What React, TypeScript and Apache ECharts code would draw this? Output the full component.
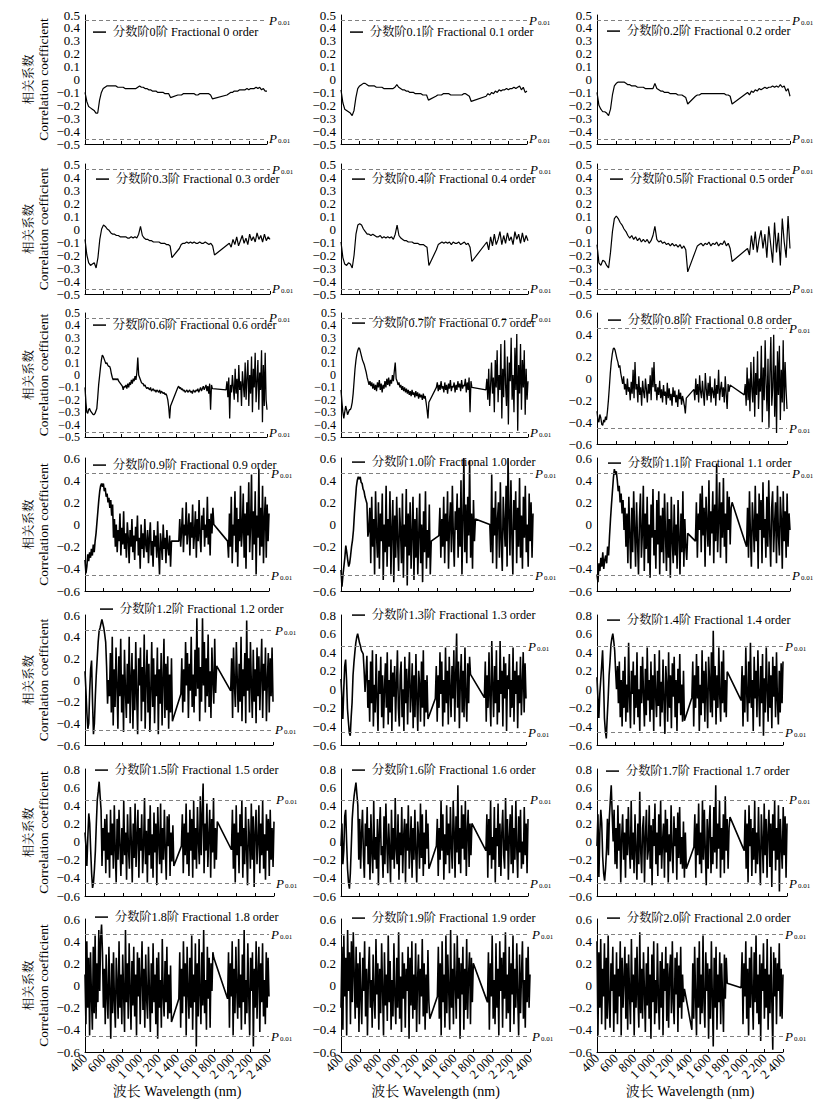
import React, { useEffect, useRef } from 'react';
import * as echarts from 'echarts';

// ---------- DATA (correlation coefficient values in hundredths) ----------
const ORDERS = ['0', '0.1', '0.2', '0.3', '0.4', '0.5', '0.6', '0.7', '0.8', '0.9', '1.0', '1.1', '1.2', '1.3', '1.4', '1.5', '1.6', '1.7', '1.8', '1.9', '2.0'];
// wavelength segments (nm); water-absorption bands removed between them
const COARSE_SEGMENTS = [[400, 1340], [1420, 1800], [1960, 2400]];
const COARSE_STEP = 20;
const FINE_SEGMENTS = [[400, 1340], [1420, 1800], [1950, 2400]];
const FINE_STEP = 10;
const P001 = 0.46;

const P00_A = [-10,-17,-21,-22,-23,-24,-26,-26,-16,-10,
-7,-6,-5,-5,-5,-5,-5,-5,-6,-6,
-6,-6,-7,-7,-7,-7,-7,-7,-7,-6,
-5,-6,-6,-7,-7,-8,-8,-9,-9,-9,
-10,-10,-10,-10,-11,-11,-11,-14];
const P00_B = [-12,-12,-12,-11,-11,-11,-11,-11,-11,-11,-12,-12,-11,-11,-11,-11,-11,-11,-12,-15];
const P00_C = [-12,-11,-10,-10,-9,-9,-9,-8,-8,-8,-8,-7,-8,-7,-7,-7,-6,-7,-6,-8,-7,-9,-9];

const P01_A = [-8,-18,-23,-24,-25,-26,-28,-24,-14,-7,
-5,-4,-3,-3,-4,-5,-5,-5,-5,-6,
-6,-6,-6,-7,-7,-7,-7,-7,-7,-6,
-4,-6,-7,-8,-8,-9,-9,-10,-10,-10,
-11,-11,-11,-11,-12,-12,-12,-16];
const P01_B = [-13,-12,-12,-12,-11,-11,-11,-11,-12,-12,-12,-12,-12,-12,-12,-11,-11,-12,-13,-17];
const P01_C = [-13,-11,-12,-10,-11,-9,-10,-8,-9,-8,-8,-7,-8,-7,-7,-6,-7,-6,-5,-8,-6,-10,-9];

const P02_A = [-10,-20,-23,-25,-25,-26,-28,-23,-12,-5,
-3,-2,-2,-2,-2,-3,-4,-4,-5,-5,
-5,-6,-6,-6,-6,-7,-7,-7,-7,-7,
-3,-7,-8,-9,-9,-10,-10,-10,-11,-11,
-11,-11,-12,-12,-12,-13,-14,-19];
const P02_B = [-13,-12,-12,-11,-11,-11,-11,-11,-11,-11,-11,-11,-11,-11,-11,-11,-12,-12,-13,-19];
const P02_C = [-10,-12,-9,-10,-8,-9,-7,-8,-7,-6,-7,-6,-6,-5,-6,-5,-6,-4,-6,-5,-9,-7,-13];

const P03_A = [-8,-20,-26,-28,-27,-26,-30,-22,-8,0,
3,2,0,-1,-3,-4,-4,-5,-5,-6,
-6,-6,-6,-7,-7,-6,-7,-6,-7,-4,
2,-5,-7,-8,-8,-9,-9,-10,-10,-10,
-10,-11,-11,-11,-12,-12,-13,-22];
const P03_B = [-15,-12,-11,-11,-10,-11,-10,-11,-10,-11,-11,-10,-11,-11,-10,-11,-12,-11,-13,-20];
const P03_C = [-11,-14,-8,-12,-6,-13,-9,-5,-11,-7,-12,-4,-9,-6,-10,-3,-8,-5,-10,-4,-9,-6,-8];

const P04_A = [-10,-22,-27,-28,-26,-27,-30,-20,-4,3,
4,3,0,-2,-4,-4,-5,-4,-5,-6,
-6,-5,-7,-6,-7,-6,-7,-6,-8,-4,
3,-5,-7,-8,-9,-9,-10,-10,-10,-11,
-11,-11,-12,-12,-12,-13,-14,-28];
const P04_B = [-16,-12,-11,-10,-11,-10,-11,-10,-12,-10,-11,-11,-10,-12,-11,-10,-12,-11,-14,-25];
const P04_C = [-10,-16,-6,-13,-4,-12,-8,-2,-12,-5,-11,-3,-9,-6,-12,-2,-8,-4,-11,-3,-10,-5,-9];

const P05_A = [-12,-26,-28,-24,-25,-28,-30,-18,-2,8,
10,8,5,3,0,-2,-5,-7,-5,-8,
-6,-9,-7,-10,-8,-10,-8,-11,-9,-5,
2,-8,-10,-9,-11,-10,-12,-11,-13,-11,
-13,-12,-14,-12,-15,-13,-16,-33];
const P05_B = [-17,-13,-12,-11,-13,-11,-12,-10,-13,-11,-12,-10,-13,-11,-12,-9,-13,-11,-15,-25];
const P05_C = [-15,-20,-5,-16,-2,-18,-8,-1,-15,-4,-22,2,-12,-26,5,-18,-3,-28,8,-10,-22,10,-15];

const P06_A = [-10,-22,-30,-31,-28,-27,-29,-30,-31,-32,
-32,-31,-29,-27,-18,-8,-1,6,12,16,
15,13,11,9,10,8,7,7,5,1,
-2,-4,-3,-4,-3,-4,-3,-5,-6,-7,
-8,-9,-12,-9,-10,-8,-11,-7,-10,-6,
-8,-4,-7,-3,-5,-1,-4,2,14,0,
-2,-4,-6,-7,-7,-9,-8,-10,-11,-10,
-11,-12,-10,-13,-12,-11,-13,-12,-14,-12,
-13,-14,-12,-15,-13,-14,-15,-14,-16,-15,
-17,-20,-26,-35,-25];
const P06_B = [-10,-9,-11,-10,-12,-11,-13,-12,-14,-13,
-12,-14,-13,-12,-14,-13,-15,-12,-13,-14,
-12,-13,-11,-14,-12,-10,-13,-11,-9,-12,
-10,-8,-13,-9,-15,-7,-28,-8,-11];
const P06_C = [-12,-5,-18,-2,-35,-8,-14,0,-10,-20,
5,-15,-3,-22,8,-12,-5,-25,3,-8,
-18,10,-20,-2,12,-25,0,-15,15,-30,
5,-10,18,-22,-5,12,-28,2,-12,20,
-38,8,-25,18,-20,-28];

const P07_A = [-12,-22,-30,-35,-30,-25,-28,-32,-30,-28,
-28,-26,-22,-15,-5,5,12,17,20,22,
21,18,15,12,10,8,5,2,-2,-5,
-8,-5,-9,-6,-11,-7,-12,-8,-13,-6,
-10,-4,-12,-7,-14,-8,-11,-5,-10,-3,
-8,-2,-9,-4,-7,0,-5,3,10,-3,
-5,-8,-6,-10,-8,-12,-9,-13,-10,-14,
-11,-15,-12,-16,-13,-17,-12,-16,-14,-18,
-13,-17,-14,-19,-15,-18,-16,-20,-15,-19,
-17,-22,-28,-35,-22];
const P07_B = [-10,-6,-13,-8,-12,-5,-11,-9,-14,-6,
-12,-8,-15,-7,-11,-4,-13,-9,-10,-6,
-14,-8,-12,-5,-10,-7,-13,-4,-11,-8,
-9,-3,-14,-6,-12,-2,-30,-5,-10];
const P07_C = [-12,-3,-20,5,-25,-8,10,-15,-2,-30,
12,-10,20,-22,0,-12,25,-35,5,-18,
28,-8,-25,15,-40,10,-5,30,-20,0,
-30,22,-12,33,-45,8,-15,25,-28,12,
-10,20,-32,5,-20,-5];

const P08_A = [-30,-38,-40,-33,-36,-42,-43,-38,-40,-35,
-38,-30,-20,-8,5,15,22,27,28,26,
22,18,15,10,12,5,0,-5,2,-10,
-5,-15,0,-12,-8,-20,-3,-14,8,-18,
15,-10,-5,-22,2,-15,-8,-25,-2,-12,
-18,0,-10,-22,-5,-14,3,-20,10,-8,
15,-12,-5,-20,-8,-15,-2,-18,-10,-22,
-6,-16,-12,-24,-4,-18,-9,-20,-14,-25,
-8,-17,-11,-22,-15,-26,-10,-19,-13,-24,
-16,-20,-25,-32,-18];
const P08_B = [-10,-20,0,-15,-5,-22,3,-12,-18,-2,
-14,-25,5,-10,-20,-4,-16,2,-22,-8,
-12,-18,0,-25,-6,-14,8,-20,-10,-3,
-17,-8,-22,2,-14,-28,-5,-12,-6];
const P08_C = [-15,-5,-25,10,-20,0,-30,15,-10,-22,
20,-35,5,-15,25,-28,0,-12,30,-40,
10,-20,35,-5,-30,18,-45,5,38,-25,
-8,40,-35,12,-50,25,-15,30,-38,8,
-22,35,-30,15,-10,-28];

const P09_A = [-32,-44,-38,-27,-33,-25,-30,-22,-28,-18,
-25,-15,-8,2,12,22,30,35,37,34,
37,30,33,25,28,20,24,15,22,8,
18,-12,5,-20,0,-25,-5,-15,10,-28,
-3,-18,12,-22,-8,-30,2,-12,-35,-5,
-20,5,-25,-10,-32,-2,-15,8,-28,-12,
-40,0,-22,-8,-30,5,-18,-25,-5,-35,
-12,2,-28,-15,-38,-5,-20,-10,-30,3,
-25,-45,-8,-18,-32,0,-22,-12,-35,-5,
-20,-28,-10,-38,-15];
const P09_B = [-15,5,-20,-5,15,-25,0,-10,20,-18,
-5,10,-28,2,-12,18,-22,-8,12,-30,
5,-15,22,-10,-25,8,-5,15,-20,0,
-12,25,-18,5,-28,10,-8,15,0];
const P09_C = [-15,-30,10,-20,25,-35,0,-10,30,-25,
15,-38,5,-15,35,-20,-5,28,-30,10,
-40,20,-10,38,-25,0,45,-32,12,-18,
30,-45,8,-12,50,-28,15,-20,35,-35,
5,25,-30,18,-15,10];

const P10_A = [-41,-56,-46,-38,-30,-19,-25,-32,-38,-35,
-28,-20,-14,-5,10,22,34,40,43,41,
43,38,37,32,30,25,22,19,-11,-5,
15,-35,25,-20,5,-45,30,-10,-30,20,
-40,10,-15,28,-50,0,-25,35,-38,5,
-20,30,-45,-5,22,-52,8,-30,25,-15,
-42,15,-5,-35,28,-48,0,-20,32,-55,
10,-28,20,-40,-8,25,-50,5,-30,15,
-45,-10,28,-35,0,-52,12,-25,30,-40,
-5,-30,18,-45,-15];
const P10_B = [-10,15,-30,5,-20,25,-35,10,-15,30,
-40,0,20,-25,35,-10,-38,12,-5,28,
-30,15,-20,40,-45,5,60,-25,18,-35,
25,-10,58,-30,10,-40,22,-15,5];
const P10_C = [0,-25,45,-35,15,-10,30,-40,5,20,
-30,38,-15,-42,25,0,-20,35,-38,60,
10,-28,40,-10,-45,22,-5,30,-35,15,
-20,42,-30,8,-40,25,-12,35,-25,0,
-38,28,-15,20,-30,10];

const P11_A = [-45,-52,-35,-42,-30,-38,-25,-40,-32,-28,
-35,-20,-28,-10,5,18,30,42,50,45,
48,40,30,35,20,28,10,22,-5,15,
-20,10,-35,25,-10,-40,15,-25,30,-5,
-38,20,-15,-45,5,28,-30,-8,35,-42,
10,-22,25,-35,0,-48,18,-12,32,-28,
-5,-40,22,-18,30,-45,8,-25,15,-35,
28,-10,-42,20,-30,5,-48,25,-15,-35,
18,-28,0,-40,22,-12,-45,10,-25,30,
-38,5,-20,-32,-8];
const P11_B = [-15,20,-30,10,-5,28,-25,35,-10,15,
-38,25,0,-20,40,-28,12,-8,30,-35,
18,-15,55,-25,5,38,-30,20,-12,42,
-20,10,-35,30,-5,25,-18,15,20];
const P11_C = [-20,15,-30,30,-10,-38,20,0,-25,35,
-15,10,-40,28,-5,22,-35,38,-12,5,
-30,25,-20,40,-8,-38,15,30,-25,0,
20,-35,35,-10,-28,25,5,-40,30,-15,
12,-30,28,-20,10,-5];

const P12_A = [8,-10,-30,-45,-40,-10,10,18,-20,-50,
-40,-15,5,20,35,45,48,52,56,52,
48,42,35,12,-22,0,-15,25,-30,40,
-42,10,-25,30,-5,-45,22,-15,38,-30,
5,-48,28,-10,-35,15,-22,40,-40,0,
25,-45,10,-28,35,-15,-50,20,-5,30,
-38,12,-20,42,-45,0,28,-30,15,-48,
-10,35,-25,20,-40,5,-15,30,-50,10,
-22,25,-42,0,38,-35,15,-28,22,-45,
5,-30,20,-38,-35];
const P12_B = [-13,20,-30,10,-20,35,-5,25,-35,15,
-10,40,-25,5,-30,28,-15,57,-8,30,
-38,12,-20,57,-5,35,-30,20,-15,42,
-25,8,-35,30,0,-22,38,-12,13];
const P12_C = [-10,20,-35,30,-5,-25,35,0,-30,15,
-20,40,-38,10,-15,25,-40,55,-10,20,
-30,35,-5,-35,28,-20,10,-40,30,-15,
22,-28,5,38,-35,15,-10,30,-38,0,
25,-30,20,-15,30,-20];

const P13_A = [11,-10,-32,0,25,32,10,-21,-35,-47,
-50,-30,-14,15,29,40,50,56,60,55,
50,47,42,40,38,20,-3,15,36,-20,
10,-35,30,-15,42,-40,5,-25,38,-10,
-45,20,-5,35,-30,15,-42,0,28,-20,
40,-38,10,-25,32,-45,18,-8,25,-35,
5,42,-20,-40,15,30,-30,0,-45,35,
-15,22,-38,10,40,-25,-5,28,-42,15,
-30,38,-10,-45,20,5,-35,30,-20,42,
-40,10,-25,15,-32];
const P13_B = [-10,25,-35,15,-20,40,-5,30,-40,10,
-25,45,-15,20,-38,35,0,-30,25,-10,
42,-35,15,60,-20,30,-42,8,38,-25,
20,-30,45,-8,-35,28,-15,35,16];
const P13_C = [-9,30,-35,15,-20,40,-10,-40,52,5,
-30,25,-15,42,-38,10,-25,52,-5,20,
-40,35,-10,28,-45,15,0,38,-30,10,
-20,45,-35,20,-5,30,-42,15,-15,35,
-28,5,40,-25,28,-10];

const P14_A = [13,-10,-31,-5,10,25,42,10,-31,-45,
-53,-30,-10,15,30,48,55,60,52,42,
20,0,25,-15,30,-30,10,-40,20,-20,
35,-35,5,-25,50,-10,-42,20,-5,30,
-38,15,-20,40,-30,0,-45,25,-15,35,
-5,-40,22,-28,45,-12,10,-35,30,-22,
15,-45,38,-5,-30,20,-18,42,-40,8,
-25,32,-12,-48,25,5,-35,40,-20,15,
-42,28,-8,35,-30,10,-45,22,-15,38,
-28,5,-35,20,-34];
const P14_B = [-9,30,-40,15,-20,38,-10,25,-45,5,
-28,42,-15,20,-35,30,-5,-42,35,10,
-25,40,-30,63,-12,25,-38,15,-20,45,
-8,-35,30,-15,42,-25,10,-30,19];
const P14_C = [-12,25,-40,15,-25,45,-5,-35,30,-15,
50,-20,10,-45,35,-10,20,-30,42,-5,
-40,25,-15,38,-50,12,-25,45,0,-35,
30,-20,15,-42,35,-8,25,-30,40,-12,
-38,20,-25,28,-15,30];

const P15_A = [10,-5,-27,5,31,20,-9,-35,-51,-45,
-30,-10,20,46,55,66,50,35,-27,15,
-10,25,-35,30,-20,10,-40,35,-15,20,
-30,40,-10,-45,25,-20,35,-5,-38,15,
-25,45,-15,10,-42,30,-8,-30,38,0,
-45,20,-18,42,-28,5,35,-40,15,-10,
30,-35,-5,48,-25,12,-45,25,-15,40,
-30,8,-40,32,-12,20,-48,38,0,-25,
42,-35,15,-20,35,-10,-42,28,-5,30,
-38,10,-22,18,-27];
const P15_B = [-5,30,-35,20,-15,42,-25,10,-38,35,
-10,25,-40,45,-20,15,-30,38,0,-25,
50,-15,30,64,-35,20,-10,42,-28,5,
35,-40,25,-12,48,-30,15,-20,22];
const P15_C = [-9,35,-30,20,-45,40,-15,10,-35,30,
-5,45,-40,15,-25,38,-10,-48,25,5,
-30,42,-20,28,-50,10,35,-25,0,40,
-35,20,-15,45,-30,8,-42,30,-10,25,
-38,35,-20,15,-28,22];

const P16_A = [-5,20,-25,-10,28,35,0,-30,-45,-52,
-35,-5,25,40,50,58,65,52,40,-20,
25,-30,10,35,-15,-40,20,-5,38,-25,
15,-42,30,-10,-35,45,-20,5,-30,25,
-48,10,38,-15,-5,-40,28,-25,42,0,
-35,20,-10,-45,35,-20,15,-30,48,-8,
-25,30,-42,10,-15,38,-35,5,25,-45,
20,-10,40,-30,-5,28,-40,15,-20,35,
-12,-45,22,5,-30,42,-18,30,-38,10,
-25,35,-8,20,-30];
const P16_B = [-5,25,-38,15,-20,45,-10,30,-42,8,
-25,40,-15,20,-35,38,-5,-30,45,12,
-40,28,-12,62,-25,15,-35,40,-8,30,
-20,45,-38,10,35,-28,20,-15,20];
const P16_C = [-10,30,-40,25,-15,45,-30,5,-20,38,
-45,15,-5,42,-28,20,-38,10,35,-15,
-30,48,-10,25,-42,5,30,-25,40,-35,
15,-20,45,-8,-40,28,-12,35,-30,0,
-25,38,-15,20,-35,25];

const P17_A = [-5,30,-39,10,35,20,-17,-35,-43,-30,
-10,25,-15,27,45,62,30,0,35,-25,
15,-30,40,-10,20,-45,5,30,-20,10,
-40,25,-15,38,-5,-30,45,-20,10,-35,
30,-8,-42,20,-25,55,-10,-35,15,28,
-45,5,35,-20,-10,40,-30,18,-48,25,
-5,42,-25,10,-38,30,-15,45,-30,0,
20,-40,35,-12,25,-45,8,-22,40,-10,
-35,28,-5,15,-42,32,-18,38,-25,5,
-30,22,-40,10,-30];
const P17_B = [-6,30,-40,20,-15,42,-25,10,-35,45,
-20,35,-10,-48,25,-30,15,40,-35,5,
-25,38,-12,62,-30,20,-8,45,-40,15,
-20,30,-35,50,-10,25,-30,15,27];
const P17_C = [-10,35,-30,20,-45,40,-5,25,-38,15,
-20,45,-35,10,-25,38,-12,-48,30,0,
-35,42,-15,25,-40,10,35,-28,20,-50,
30,-10,45,-32,15,-20,40,-55,25,-5,
-30,38,-15,28,-40,20];

const P18_A = [10,-35,40,-20,25,-45,30,-10,-40,35,
-25,45,-30,20,-15,50,-5,42,55,30,
-20,15,-35,28,-10,-30,35,-5,-48,20,
-25,30,-15,-38,25,0,-30,40,-20,10,
-35,28,-8,-42,50,-15,20,-30,38,-5,
-40,22,-18,35,-28,10,-45,30,-10,25,
-35,5,40,-22,15,-38,28,-12,-30,35,
-5,-42,20,-25,38,-15,10,-35,25,-48,
30,-20,5,-38,42,-10,-28,22,-15,35,
-30,10,-25,18,-33];
const P18_B = [-12,30,-38,15,-25,40,-10,20,-45,35,
-5,-30,25,-20,45,-40,10,-15,38,-55,
20,-28,42,-8,-35,30,-18,50,-25,5,
-40,35,-12,25,-38,20,-5,30,25];
const P18_C = [-12,30,-38,20,-10,40,-45,15,-25,35,
-5,-30,42,-20,10,-40,28,-15,50,-35,
5,-25,38,-10,-45,25,-5,30,-55,15,
-20,40,-30,10,35,-42,20,-15,38,-28,
5,-35,30,-20,25,-10];

const P19_A = [-20,35,-40,45,-10,25,-45,50,-5,30,
-35,40,-15,48,10,-30,35,-20,20,-42,
30,-10,-35,25,-5,40,-28,15,-45,10,
35,-20,5,-38,28,-12,-30,42,-8,20,
-40,15,-25,38,-5,-45,30,-18,10,-32,
45,-15,22,-40,5,-28,38,-10,-35,25,
-20,48,-30,8,-42,30,-12,20,-38,15,
-5,35,-48,25,-18,40,-30,10,-22,38,
-42,5,28,-35,15,-10,42,-28,20,-40,
10,-25,32,-15,-30];
const P19_B = [-10,35,-30,20,-45,40,-15,10,-38,45,
-25,28,-5,-40,50,-20,15,-35,38,0,
-30,45,-12,25,-48,20,-8,35,-40,15,
-22,42,-30,10,30,-35,25,-15,20];
const P19_C = [-15,30,-40,20,-10,45,-30,5,-35,38,
-20,15,-45,40,-5,25,-38,30,-12,48,
-30,10,-25,35,-42,20,-8,45,-35,15,
-20,38,-10,-45,28,-25,10,40,-30,5,
-38,25,-15,35,-20,10];

const P20_A = [40,-45,30,-20,42,-35,15,-10,38,-40,
25,-30,45,-15,-38,20,-5,35,-42,10,
-25,30,-35,15,-10,40,-45,25,-20,5,
35,-30,20,-40,28,-8,-35,42,-15,10,
-45,25,-20,35,-10,-38,48,-25,15,-30,
30,-5,-42,20,-18,35,-30,10,-48,28,
-15,40,-35,5,-25,38,-10,-40,22,-20,
30,-45,15,-5,35,-32,20,-38,10,28,
-25,40,-15,-35,25,-8,30,-42,18,-20,
35,-30,10,-15,-3];
const P20_B = [-40,20,-30,35,-10,-45,25,-20,40,-35,
10,-25,45,-15,-38,30,-5,20,-48,15,
-30,40,-10,-55,25,-20,35,-40,10,-15,
30,-35,20,-8,-42,28,-12,25,2];
const P20_C = [-2,30,-35,20,-10,40,-30,15,-45,25,
-20,35,-8,-40,30,-15,45,-25,10,-35,
28,-50,20,-5,38,-30,15,-20,42,-40,
10,-25,35,-15,-58,30,-10,25,-35,20,
-5,38,-28,15,-30,10];

const PANEL_VALUES = [
  [P00_A, P00_B, P00_C], [P01_A, P01_B, P01_C], [P02_A, P02_B, P02_C],
  [P03_A, P03_B, P03_C], [P04_A, P04_B, P04_C], [P05_A, P05_B, P05_C],
  [P06_A, P06_B, P06_C], [P07_A, P07_B, P07_C], [P08_A, P08_B, P08_C],
  [P09_A, P09_B, P09_C], [P10_A, P10_B, P10_C], [P11_A, P11_B, P11_C],
  [P12_A, P12_B, P12_C], [P13_A, P13_B, P13_C], [P14_A, P14_B, P14_C],
  [P15_A, P15_B, P15_C], [P16_A, P16_B, P16_C], [P17_A, P17_B, P17_C],
  [P18_A, P18_B, P18_C], [P19_A, P19_B, P19_C], [P20_A, P20_B, P20_C],
];
const COARSE_PANELS = 6; // first six panels sampled on the coarse grid

const Y_MAX = [0.5, 0.5, 0.5, 0.5, 0.5, 0.5, 0.5, 0.5, 0.6, 0.6, 0.6, 0.6, 0.6, 0.8, 0.8, 0.8, 0.8, 0.8, 0.6, 0.6, 0.6];

// ---------- LAYOUT ----------
const COL_LEFT = [85, 341, 597];
const PANEL_RIGHT = [267, 527, 790, 270, 528, 790, 267, 528, 787, 269, 533, 790, 273, 526, 783, 274, 528, 787, 269, 530, 783];
const ROW_TOP = [15, 164, 313, 458, 615, 769, 919];
const PANEL_BOTTOM = [144, 144, 144, 294, 294, 294, 437, 437, 444, 591, 591, 591, 745, 745, 745, 896, 896, 896, 1052, 1052, 1052];
const LEGEND_XY = [[93, 34], [350, 34], [607, 33], [96, 181], [352, 181], [610, 181], [93, 327], [352, 325], [608, 322], [93, 467], [352, 464], [608, 465], [100, 611], [352, 617], [607, 622], [95, 772], [352, 772], [606, 773], [95, 919], [352, 920], [607, 920]];

const SERIF = '"Liberation Serif", "Times New Roman", "Noto Serif CJK SC", "Noto Sans CJK SC", serif';

function buildData(segs: number[][], step: number, vals: number[][]) {
  const out: number[][] = [];
  segs.forEach((s, k) => {
    const arr = vals[k];
    for (let i = 0; i < arr.length; i++) {
      const x = s[0] + i * step;
      if (x > s[1]) break;
      out.push([x, arr[i] / 100]);
    }
  });
  return out;
}

function fmtY(v: number) {
  if (Math.abs(v) < 1e-9) return '0';
  return (v < 0 ? '\u2212' : '') + Math.abs(v).toFixed(1);
}
function fmtX(v: number) {
  if (v >= 1000) {
    const th = Math.floor(v / 1000);
    const rest = String(Math.round(v - th * 1000)).padStart(3, '0');
    return th + ' ' + rest;
  }
  return String(v);
}

function buildOption() {
  const grid: any[] = [];
  const xAxis: any[] = [];
  const yAxis: any[] = [];
  const series: any[] = [];
  const legend: any[] = [];
  ORDERS.forEach((ord, i) => {
    const row = Math.floor(i / 3);
    const col = i % 3;
    const left = COL_LEFT[col];
    const top = ROW_TOP[row];
    const bottomRow = row === 6;
    const ymax = Y_MAX[i];
    const ymin = ymax === 0.5 ? -0.5 : -0.6;
    const interval = ymax === 0.5 ? 0.1 : 0.2;
    const name = '分数阶' + ord + '阶 Fractional ' + ord + ' order';
    const coarse = i < COARSE_PANELS;
    const height = PANEL_BOTTOM[i] - top;
    const labelSpacing = height / Math.round((ymax - ymin) / interval);
    grid.push({ left, top, width: PANEL_RIGHT[i] - left, height, containLabel: false });
    xAxis.push({
      gridIndex: i, type: 'value', min: 400, max: 2400, interval: 200,
      axisLine: { show: true, onZero: false, lineStyle: { color: '#000', width: 1 } },
      axisTick: { show: true, inside: true, length: 3, lineStyle: { color: '#000' } },
      splitLine: { show: false },
      axisLabel: bottomRow
        ? { show: true, rotate: 45, margin: 4, fontSize: 13, color: '#000', fontFamily: SERIF, formatter: fmtX, showMinLabel: true, showMaxLabel: true }
        : { show: false },
      name: bottomRow ? '波长 Wavelength (nm)' : '',
      nameLocation: 'middle', nameGap: 26,
      nameTextStyle: { fontSize: 14, color: '#000', fontFamily: SERIF },
    });
    yAxis.push({
      gridIndex: i, type: 'value', min: ymin, max: ymax, interval,
      axisLine: { show: true, onZero: false, lineStyle: { color: '#000', width: 1 } },
      axisTick: { show: false },
      splitLine: { show: false },
      axisLabel: {
        show: true, margin: 5, fontSize: labelSpacing < 12.8 ? 12 : 13, color: '#000', fontFamily: SERIF,
        formatter: fmtY, showMinLabel: true, showMaxLabel: true, hideOverlap: false,
      },
      name: col === 0 ? '{cn|相关系数}\n{en|Correlation coefficient}' : '',
      nameLocation: 'middle', nameGap: 34, nameRotate: 90,
      nameTextStyle: {
        color: '#000', fontFamily: SERIF, lineHeight: 15,
        rich: {
          cn: { fontSize: 12.5, color: '#000', fontFamily: SERIF, lineHeight: 15 },
          en: { fontSize: 13.5, color: '#000', fontFamily: SERIF, lineHeight: 15 },
        },
      },
    });
    const data = buildData(coarse ? COARSE_SEGMENTS : FINE_SEGMENTS, coarse ? COARSE_STEP : FINE_STEP, PANEL_VALUES[i]);
    series.push({
      type: 'line', name, xAxisIndex: i, yAxisIndex: i, data,
      showSymbol: false, symbol: 'none', color: '#000',
      lineStyle: { color: '#000', width: coarse ? 1.2 : (i < 9 ? 1.3 : 1.6) },
      itemStyle: { color: '#000' },
      emphasis: { disabled: true },
      markLine: {
        silent: true, symbol: ['none', 'none'],
        lineStyle: { color: '#808080', type: [4, 3], width: 1 },
        label: {
          show: true, position: 'end', distance: 2,
          formatter: '{p|P}{s|0.01}',
          rich: {
            p: { fontStyle: 'italic', fontSize: 13, color: '#000', fontFamily: SERIF, lineHeight: 12 },
            s: { fontSize: 7, color: '#000', fontFamily: SERIF, padding: [5, 0, 0, 1], lineHeight: 8 },
          },
        },
        data: [{ yAxis: P001 }, { yAxis: -P001 }],
      },
    });
    legend.push({
      data: [name], left: LEGEND_XY[i][0], top: LEGEND_XY[i][1] - 8,
      icon: 'rect', itemWidth: 13, itemHeight: 1.5, itemGap: 0, padding: 0,
      selectedMode: false,
      textStyle: { fontSize: 12.2, color: '#000', fontFamily: SERIF, padding: [0, 0, 0, 2] },
    });
  });
  return { animation: false, backgroundColor: '#fff', grid, xAxis, yAxis, series, legend };
}

export default function App() {
  const ref = useRef<HTMLDivElement>(null);
  useEffect(() => {
    if (!ref.current) return;
    const chart = echarts.init(ref.current, undefined, { renderer: 'svg' });
    chart.setOption(buildOption() as any);
    return () => chart.dispose();
  }, []);
  return <div ref={ref} style={{ position: 'absolute', left: 0, top: 0, width: 839, height: 1102, background: '#fff' }} />;
}
